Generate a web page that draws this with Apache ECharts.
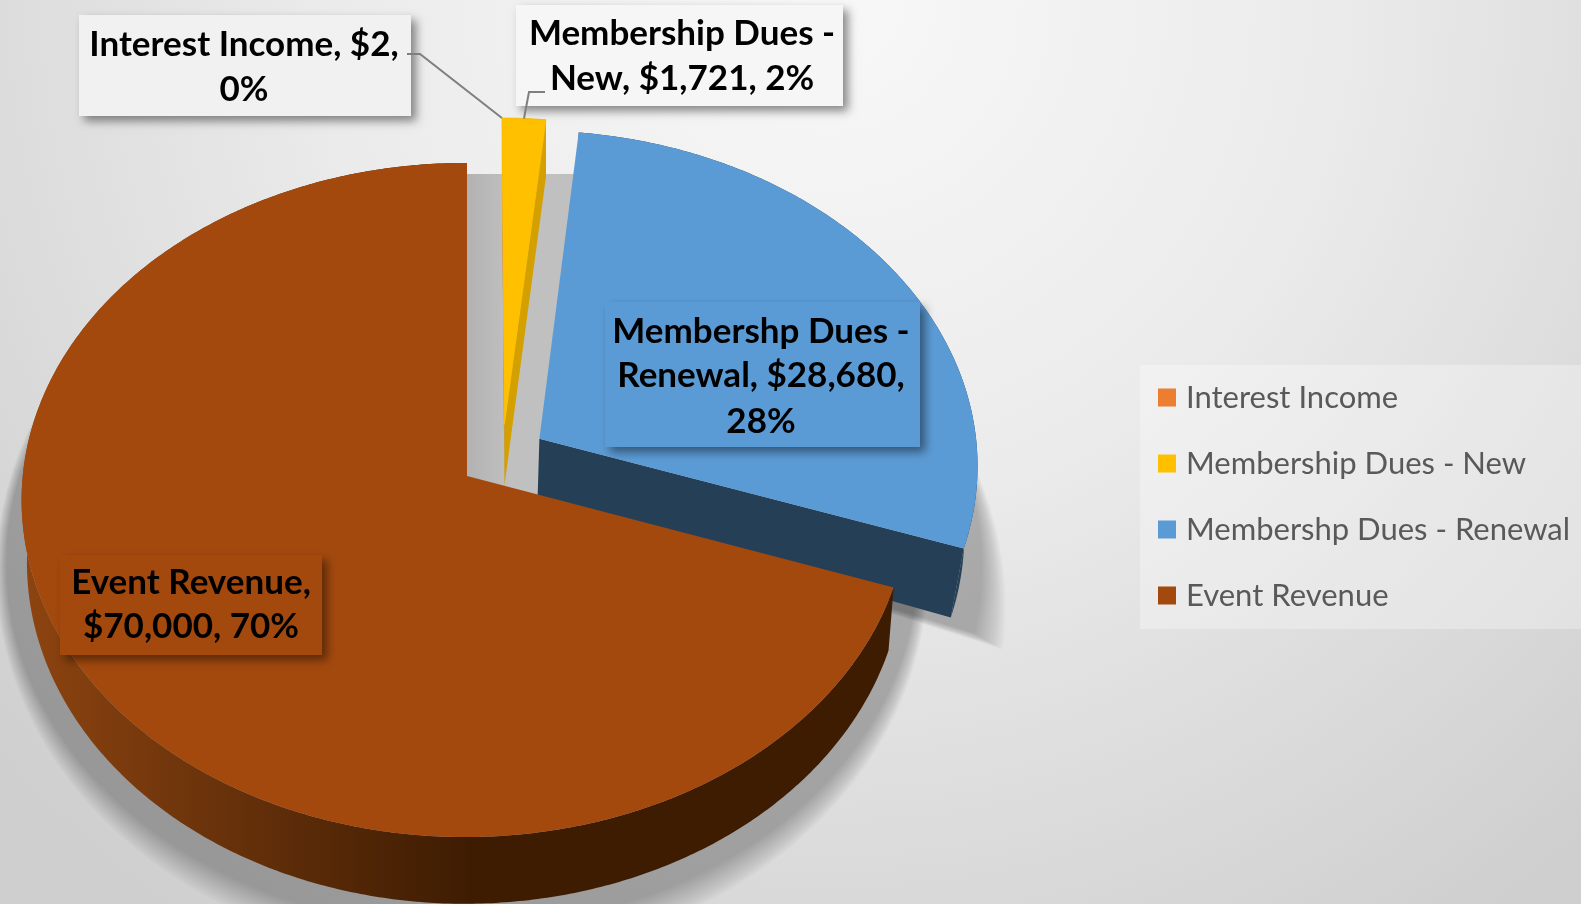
<!DOCTYPE html>
<html><head><meta charset="utf-8">
<style>html,body{margin:0;padding:0;background:#e8e8e8}#c{width:1581px;height:904px}</style>
<script src="https://cdn.jsdelivr.net/npm/echarts@6/dist/echarts.min.js"></script>
</head><body><div id="c"></div>
<script>
const categories = ['Interest Income', 'Membership Dues - New', 'Membershp Dues - Renewal', 'Event Revenue'];
const values = [2, 1721, 28680, 70000];
const percentLabels = ['0%', '2%', '28%', '70%'];
const labelLines = [
  ['Interest Income, $2,', '0%'],
  ['Membership Dues -', 'New, $1,721, 2%'],
  ['Membershp Dues -', 'Renewal, $28,680,', '28%'],
  ['Event Revenue,', '$70,000, 70%']
];
const colors = ['#ED7D31', '#FFC000', '#5B9BD5', '#A3490E'];

// 3D projection (styling only): explode du, dv, lower-rim shrink, depth growth with u
const P = {X0:467, Y0:476, B:442.5, A:335.3, K:0.0712, M:0.004, D:62};
const explode = [[0.0855,-0.156,0,0],[0.0855,-0.156,0,0],[0.165,-0.112,0.026,0.09],[0,0,0.012,0]];
const cutColors = ['#B85F1F','#D4A000','#243F56','#3E1C02'];
const boxes = [
  {x:79,y:15,w:332,h:101,cx:244,ys:[45,90],fill:'#f1f1f1'},
  {x:516,y:5,w:327,h:101,cx:682,ys:[34,79],fill:'#f6f6f6'},
  {x:605,y:302,w:315,h:145,cx:761,ys:[332,376,422],fill:'#5B9BD5'},
  {x:60,y:555,w:262,h:100,cx:191,ys:[583,627],fill:'#A3490E'}
];
const total = values.reduce((a,b)=>a+b,0);
function angleRange(i){
  let s=0; for(let k=0;k<i;k++) s+=values[k];
  return [s/total*Math.PI*2,(s+values[i])/total*Math.PI*2];
}
function proj(a,r,h,ex){
  const u=Math.sin(a)*r+ex[0], v=-Math.cos(a)*r+ex[1];
  const w=1-P.K*v+P.M*u;
  const shrink=1-(ex[2]||0)*(h/P.D);
  const hh=h*(1+(ex[3]||0)*u);
  return [P.X0+P.B*u*shrink/w, P.Y0+(P.A*v+hh)/w];
}
function arc(a0,a1,h,ex){
  const n=Math.max(2,Math.ceil((a1-a0)/0.01)),pts=[];
  for(let i=0;i<=n;i++) pts.push(proj(a0+(a1-a0)*i/n,1,h,ex));
  return pts;
}
function sliceSeries(i){
  return {
    type:'custom', name:categories[i], coordinateSystem:'none', z:3+i,
    itemStyle:{color:colors[i]}, silent:true,
    data:[[values[i]]],
    renderItem(){
      const [a0,a1]=angleRange(i), ex=explode[i], ch=[];
      const top=arc(a0,a1,0,ex), low=arc(a0,a1,P.D,ex);
      const sideFill = i===3 ? {type:'linear',global:true,x:20,y:0,x2:470,y2:0,
        colorStops:[{offset:0,color:'#8E4410'},{offset:0.5,color:'#64300A'},{offset:1,color:'#3E1C02'}]} : cutColors[i];
      ch.push({type:'polygon',shape:{points:top.concat(low.slice().reverse())},style:{fill:sideFill}});
      const o=proj(0,0,0,ex), oLow=proj(0,0,P.D,ex);
      if(i!==3){
        ch.push({type:'polygon',shape:{points:[o,top[top.length-1],low[low.length-1],oLow]},style:{fill:cutColors[i]}});
      }
      const face={fill:colors[i]};
      if(i===1){face.stroke=colors[i];face.lineWidth=0.8;}
      ch.push({type:'polygon',shape:{points:[o].concat(top)},style:face});
      return {type:'group',children:ch};
    }
  };
}
const shadowSeries = {
  type:'custom', coordinateSystem:'none', z:1, silent:true, data:[[0]],
  renderItem(){
    const ch=[], N=14, fill='rgba(0,0,0,0.021)';
    const lerp=(a,b,t)=>a+(b-a)*t;
    const ex=explode[2], [,b1]=angleRange(2), start=b1-0.9;
    for(let l=0;l<N;l++){
      const t=l/(N-1);
      // soft floor shadow of the whole pie
      const cx=462, cy=lerp(572,564,t), rx=lerp(466,456,t), ry=lerp(388,364,t), pts=[];
      for(let k=0;k<120;k++){const a=k/120*Math.PI*2;pts.push([cx+rx*Math.cos(a),cy+ry*Math.sin(a)]);}
      ch.push({type:'polygon',shape:{points:pts},style:{fill}});
      // soft floor shadow of the exploded renewal slice
      const dx=lerp(52,24,t), dy=lerp(32,16,t), base=arc(start,b1,P.D,ex);
      const off=base.map((p,k)=>{const f=k/(base.length-1);return [p[0]+dx*f,p[1]+dy*f];});
      ch.push({type:'polygon',shape:{points:[proj(0,0,P.D,ex)].concat(off)},style:{fill}});
    }
    // sharp grey behind the gap of the exploded slices
    const [,e1]=angleRange(2);
    const gapArc=[];
    for(let k=0;k<=40;k++){
      const p=proj(e1*k/40,1.1,0,[0,0,0,0]);
      gapArc.push([p[0],Math.max(p[1],174)]);
    }
    const gap=[proj(0,0,20,[0,0,0,0])].concat(gapArc);
    ch.push({type:'polygon',shape:{points:gap},style:{fill:{type:'linear',global:true,x:467,y:0,x2:510,y2:0,
      colorStops:[{offset:0,color:'#b2b2b2'},{offset:1,color:'#c0c0c0'}]}}});
    return {type:'group',children:ch};
  }
};
const labelSeries = {
  type:'custom', coordinateSystem:'none', z:10, silent:true, data:[[0]],
  renderItem(){
    const ch=[];
    boxes.forEach((b,i)=>{
      ch.push({type:'rect',shape:{x:b.x,y:b.y,width:b.w,height:b.h},
        style:{fill:b.fill,shadowBlur:9,shadowOffsetX:5,shadowOffsetY:5,shadowColor:'rgba(0,0,0,0.45)'}});
    });
    const pI=proj(angleRange(0)[0],1,0,explode[0]);
    const a=angleRange(1), pN=proj((a[0]+a[1])/2,1,0,explode[1]);
    ch.push({type:'polyline',shape:{points:[[407,54],[420,54],[pI[0],pI[1]]]},style:{stroke:'#7f7f7f',lineWidth:2,fill:'none'}});
    ch.push({type:'polyline',shape:{points:[[545,92],[529,92],[pN[0],pN[1]]]},style:{stroke:'#7f7f7f',lineWidth:2,fill:'none'}});
    boxes.forEach((b,i)=>{
      labelLines[i].forEach((t,k)=>{
        ch.push({type:'text',style:{text:t,x:b.cx,y:b.ys[k],align:'center',verticalAlign:'middle',
          font:'bold 35px Lato',fill:'#000'}});
      });
    });
    return {type:'group',children:ch};
  }
};
const chart = echarts.init(document.getElementById('c'), null, {renderer:'canvas'});
chart.setOption({
  animation:false,
  backgroundColor:{type:'radial',global:true,x:830,y:0,r:1120,
    colorStops:[{offset:0,color:'#f8f8f8'},{offset:0.45,color:'#ebebeb'},{offset:1,color:'#cfcfcf'}]},
  legend:{
    data:categories, orient:'vertical', left:1140, top:365, icon:'rect',
    itemWidth:18, itemHeight:18, itemGap:35,
    padding:[17,30,18,18], backgroundColor:'rgba(255,255,255,0.3)', selectedMode:false,
    textStyle:{fontFamily:'Lato',fontSize:31,color:'#595959',padding:[0,0,0,5]}
  },
  series:[shadowSeries].concat(categories.map((c,i)=>sliceSeries(i)),[labelSeries])
});
</script></body></html>
